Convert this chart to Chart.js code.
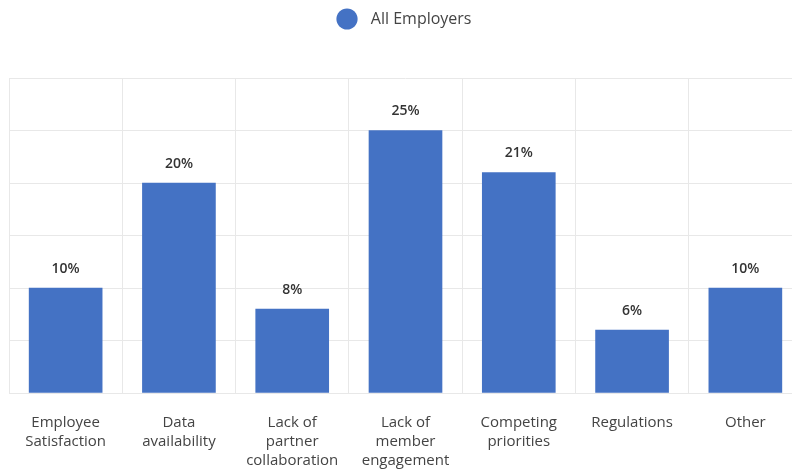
<!DOCTYPE html>
<html>
<head>
<meta charset="utf-8">
<script src="https://cdn.jsdelivr.net/npm/chart.js@4/dist/chart.umd.min.js"></script>
<style>
  html, body { margin: 0; padding: 0; background: #fff; overflow: hidden; }
  #wrap { width: 802px; height: 474px; position: relative; }
</style>
</head>
<body>
<div id="wrap"><canvas id="c"></canvas></div>
<script>
const categories = [
  ["Employee", "Satisfaction"],
  ["Data", "availability"],
  ["Lack of", "partner", "collaboration"],
  ["Lack of", "member", "engagement"],
  ["Competing", "priorities"],
  ["Regulations"],
  ["Other"]
];
const seriesName = "All Employers";
const values = [10, 20, 8, 25, 21, 6, 10];
const valueLabels = ["10%", "20%", "8%", "25%", "21%", "6%", "10%"];

const FONT = "'Open Sans', 'Noto Sans', sans-serif";

const valueLabelPlugin = {
  id: 'valueLabels',
  afterDatasetsDraw(chart) {
    const ctx = chart.ctx;
    const meta = chart.getDatasetMeta(0);
    ctx.save();
    ctx.font = "600 14px " + FONT;
    ctx.fillStyle = "#333333";
    ctx.textAlign = "center";
    ctx.textBaseline = "middle";
    meta.data.forEach((bar, i) => {
      ctx.fillText(valueLabels[i], bar.x, bar.y - 19);
    });
    ctx.restore();
  }
};

const legendSpace = {
  id: 'legendSpace',
  beforeInit(chart) {
    const origFit = chart.legend.fit;
    chart.legend.fit = function () {
      origFit.call(this);
      this.height = 78;
    };
  }
};

new Chart(document.getElementById('c'), {
  type: 'bar',
  data: {
    labels: categories,
    datasets: [{
      label: seriesName,
      data: values,
      backgroundColor: '#4472C4',
      borderWidth: 0,
      barThickness: 73
    }]
  },
  options: {
    responsive: true,
    maintainAspectRatio: false,
    animation: false,
    layout: { padding: { left: 9, right: 0, top: 0, bottom: 3 } },
    plugins: {
      legend: {
        display: true,
        position: 'top',
        labels: {
          usePointStyle: true,
          pointStyle: 'circle',
          boxWidth: 15,
          boxHeight: 15,
          padding: 11,
          color: '#444444',
          font: { family: FONT, size: 16 },
          generateLabels(chart) {
            const items = Chart.defaults.plugins.legend.labels.generateLabels(chart);
            items.forEach(it => { it.text = '  ' + it.text; });
            return items;
          }
        }
      },
      tooltip: { enabled: false }
    },
    scales: {
      x: {
        afterFit(scale) { scale.height = 78; },
        grid: { display: true, offset: true, color: '#e8e8e8', drawTicks: false },
        border: { display: true, color: '#e8e8e8' },
        ticks: {
          color: '#444444',
          padding: 20,
          maxRotation: 0,
          autoSkip: false,
          font: { family: FONT, size: 15, lineHeight: 1.27 }
        }
      },
      y: {
        min: 0,
        max: 30,
        ticks: { display: false, stepSize: 5 },
        grid: { color: '#e8e8e8', drawTicks: false },
        border: { display: false }
      }
    }
  },
  plugins: [valueLabelPlugin, legendSpace]
});
</script>
</body>
</html>
